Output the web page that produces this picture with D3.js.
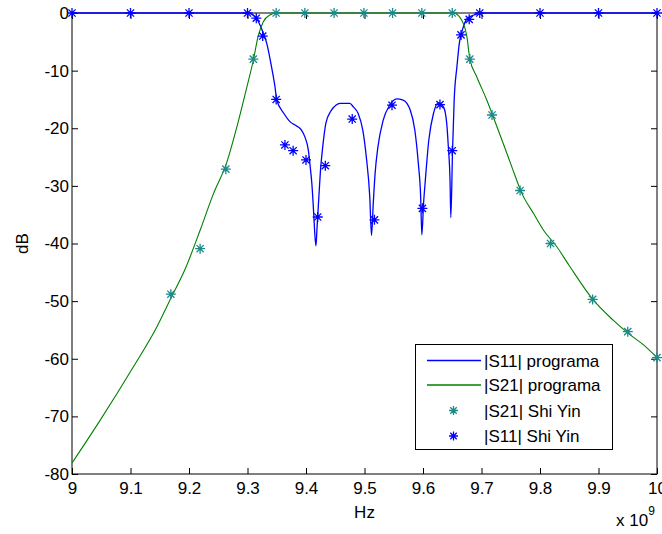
<!DOCTYPE html>
<html><head><meta charset="utf-8">
<script src="https://cdn.jsdelivr.net/npm/d3@7"></script>
<style>
html,body{margin:0;padding:0;background:#fff;}
svg{display:block;}
text{font-family:"Liberation Sans",Arial,Helvetica,sans-serif;}
</style></head><body>
<svg id="chart" width="662" height="534"></svg>
<script>
// Frequencies in units of 1e9 Hz, magnitudes in dB.

// |S11| computed by the program
const s11Freq = [9.000, 9.300, 9.305, 9.315, 9.322, 9.327, 9.333, 9.341, 9.347, 9.350, 9.362, 9.373, 9.384, 9.392,
  9.398, 9.404, 9.407, 9.410, 9.413, 9.415, 9.417, 9.419, 9.422, 9.425, 9.428, 9.434, 9.442, 9.451, 9.458, 9.475,
  9.481, 9.489, 9.497, 9.503, 9.509, 9.512, 9.515, 9.518, 9.523, 9.532, 9.543, 9.555, 9.566, 9.578, 9.586, 9.592,
  9.596, 9.598, 9.601, 9.604, 9.610, 9.618, 9.626, 9.635, 9.6405, 9.6433, 9.6462, 9.6476, 9.6505, 9.6533, 9.658,
  9.662, 9.668, 9.676, 9.687, 9.700, 10.000];
const s11Db = [0, 0, -0.1, -0.9, -2.2, -3.5, -5.3, -9.3, -12.8, -15.1, -17.4, -18.9, -19.6, -20.3,
  -21.5, -23.8, -26.5, -29.6, -34.5, -38.2, -40.4, -37.0, -31.9, -27.0, -23.8, -19.1, -17.1, -16.0, -15.7, -15.7,
  -16.3, -17.4, -20.3, -24.9, -31.9, -38.6, -33.0, -28.0, -23.2, -18.6, -16.0, -14.9, -15.1, -16.8, -20.3, -26.1,
  -31.9, -38.5, -33.0, -29.0, -22.0, -17.4, -15.6, -16.3, -19.1, -23.2, -29.0, -35.5, -23.8, -15.1, -9.3,
  -5.3, -2.7, -0.9, -0.35, 0, 0];

// |S21| computed by the program
const s21Freq = [9.000, 9.048, 9.105, 9.145, 9.169, 9.194, 9.219, 9.242, 9.264, 9.282, 9.299, 9.310, 9.318, 9.327,
  9.338, 9.350, 9.652, 9.666, 9.675, 9.680, 9.692, 9.709, 9.720, 9.737, 9.754, 9.769, 9.789, 9.806, 9.829,
  9.851, 9.891, 9.925, 9.951, 9.977, 10.000];
const s21Db = [-78.1, -70.7, -61.4, -54.5, -49.5, -44.3, -37.7, -31.3, -26.1, -19.7, -12.8, -8.2, -4.1, -1.5,
  -0.35, 0, 0, -1.2, -4.1, -7.9, -11.1, -15.1, -18.0, -22.6, -27.3, -31.3, -34.8, -37.7, -40.6,
  -44.0, -49.8, -53.3, -55.6, -57.6, -59.8];

// Reference points (Shi Yin)
const s21RefFreq = [9.169, 9.219, 9.263, 9.310, 9.349, 9.398, 9.448, 9.499, 9.548, 9.598, 9.650, 9.680, 9.718,
  9.766, 9.818, 9.890, 9.950, 10.000];
const s21RefDb = [-48.8, -40.9, -27.1, -8.0, 0, 0, 0, 0, 0, 0, 0, -8.0, -17.7, -30.8, -40.0, -49.7, -55.3, -59.8];

const s11RefFreq = [9.0, 9.1, 9.2, 9.3, 9.315, 9.326, 9.349, 9.364, 9.378, 9.400, 9.420, 9.433, 9.479, 9.517,
  9.547, 9.599, 9.629, 9.650, 9.665, 9.679, 9.697, 9.8, 9.9, 10.0];
const s11RefDb = [0, 0, 0, 0, -0.9, -4.0, -15.0, -22.9, -23.9, -25.5, -35.4, -26.5, -18.4, -35.9,
  -16.0, -33.9, -15.9, -23.9, -3.8, -1.1, 0, 0, 0, 0];

// Axis ticks
const xTicks = [9, 9.1, 9.2, 9.3, 9.4, 9.5, 9.6, 9.7, 9.8, 9.9, 10];
const yTicks = [0, -10, -20, -30, -40, -50, -60, -70, -80];

const legendLabels = ["|S11| programa", "|S21| programa", "|S21| Shi Yin", "|S11| Shi Yin"];

const BLUE = "#0000ff", GREEN = "#008000", TEAL = "#1a8a8a";
const FONT = 17;

const svg = d3.select("#chart");
const L = 72, R = 657, T = 13, B = 474;

const x = d3.scaleLinear().domain([9, 10]).range([L, R]);
const y = d3.scaleLinear().domain([-80, 0]).range([B, T]);

svg.append("rect").attr("width", 662).attr("height", 534).attr("fill", "#fff");

// Axes with inward ticks on all four sides
const fmt = d => String(d);
function styleAxis(g) {
  g.select(".domain").remove();
  g.selectAll("line").attr("stroke", "#000");
  g.selectAll("text").attr("fill", "#000").style("font-size", FONT + "px")
    .style("font-family", '"Liberation Sans", Arial, sans-serif');
}
svg.append("g").attr("transform", `translate(0,${B})`)
  .call(d3.axisBottom(x).tickValues(xTicks).tickFormat(fmt).tickSizeInner(-6).tickSizeOuter(0).tickPadding(8))
  .call(styleAxis);
svg.append("g").attr("transform", `translate(0,${T})`)
  .call(d3.axisTop(x).tickValues(xTicks).tickFormat("").tickSizeInner(-6).tickSizeOuter(0))
  .call(styleAxis);
svg.append("g").attr("transform", `translate(${L},0)`)
  .call(d3.axisLeft(y).tickValues(yTicks).tickFormat(fmt).tickSizeInner(-6).tickSizeOuter(0).tickPadding(3))
  .call(styleAxis);
svg.append("g").attr("transform", `translate(${R},0)`)
  .call(d3.axisRight(y).tickValues(yTicks).tickFormat("").tickSizeInner(-6).tickSizeOuter(0))
  .call(styleAxis);

svg.append("rect").attr("x", L).attr("y", T).attr("width", R - L).attr("height", B - T)
  .attr("fill", "none").attr("stroke", "#000").attr("stroke-width", 1);

// Axis titles
svg.append("text").attr("x", (L + R) / 2).attr("y", 518).attr("text-anchor", "middle")
  .style("font-size", FONT + "px").text("Hz");
svg.append("text").attr("transform", `translate(28,${(T + B) / 2}) rotate(-90)`)
  .attr("text-anchor", "middle").style("font-size", FONT + "px").text("dB");
const expo = svg.append("text").attr("x", 616).attr("y", 526).style("font-size", FONT + "px");
expo.append("tspan").text("x 10");
expo.append("tspan").attr("dy", -11).style("font-size", "12px").text("9");

// Curves
const line = d3.line().x(d => x(d[0])).y(d => y(d[1])).curve(d3.curveMonotoneX);
svg.append("path").datum(d3.zip(s11Freq, s11Db)).attr("d", line)
  .attr("fill", "none").attr("stroke", BLUE).attr("stroke-width", 1.3);
svg.append("path").datum(d3.zip(s21Freq, s21Db)).attr("d", line)
  .attr("fill", "none").attr("stroke", GREEN).attr("stroke-width", 1.1);

// Asterisk marker
function star(r) {
  const d = r * 0.72;
  return `M${-r},0H${r}M0,${-r}V${r}M${-d},${-d}L${d},${d}M${-d},${d}L${d},${-d}`;
}
function markers(fr, db, color) {
  svg.append("g").selectAll("path").data(d3.zip(fr, db)).join("path")
    .attr("transform", d => `translate(${x(d[0])},${y(d[1])})`)
    .attr("d", star(5)).attr("fill", "none").attr("stroke", color).attr("stroke-width", 1.3);
}
markers(s21RefFreq, s21RefDb, TEAL);
markers(s11RefFreq, s11RefDb, BLUE);

// Legend
const lg = svg.append("g");
lg.append("rect").attr("x", 415.5).attr("y", 344.5).attr("width", 197).attr("height", 105)
  .attr("fill", "#fff").attr("stroke", "#000").attr("stroke-width", 1);
const rowY = [360.5, 385, 410.5, 436];
const kinds = [{line: BLUE}, {line: GREEN}, {mark: TEAL}, {mark: BLUE}];
legendLabels.forEach((lab, i) => {
  const k = kinds[i];
  if (k.line) {
    lg.append("line").attr("x1", 427).attr("x2", 481).attr("y1", rowY[i]).attr("y2", rowY[i])
      .attr("stroke", k.line).attr("stroke-width", 1.3);
  } else {
    lg.append("path").attr("transform", `translate(453.5,${rowY[i]})`).attr("d", star(4.5))
      .attr("fill", "none").attr("stroke", k.mark).attr("stroke-width", 1.3);
  }
  lg.append("text").attr("x", 484).attr("y", rowY[i]).attr("dy", "0.36em")
    .style("font-size", FONT + "px").text(lab);
});
</script></body></html>
